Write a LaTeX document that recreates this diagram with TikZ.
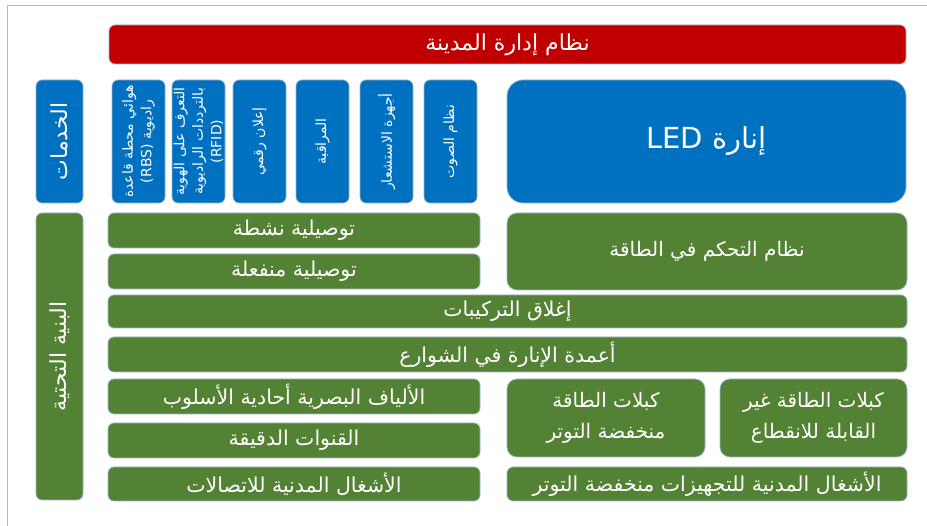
\documentclass[tikz,border=0pt]{standalone}
\usepackage{fontspec}
\newfontfamily\arabicfont[Script=Arabic]{DejaVu Sans}
\TeXXeTstate=1

\definecolor{cityred}{HTML}{C00000}
\definecolor{svcblue}{HTML}{0070C0}
\definecolor{infragreen}{HTML}{548235}
\definecolor{tileedge}{HTML}{9DB4CF}
\definecolor{pageframe}{HTML}{A9BCD2}

% right-to-left line
\newcommand\rtltext[1]{\beginR #1\endR}
% horizontal tile from corner (x1,y1) to corner (x2,y2), in pixel units
\newcommand\mkbox[7][]{%
  \node[#1, minimum width={(#5-#3)*1pt}, minimum height={(#6-#4)*1pt}]
    (#2) at ({(#3+#5)/2},{(#4+#6)/2}) {#7};}
% tile whose text runs upwards
\newcommand\mkvbox[7][]{%
  \node[#1, rotate=90, minimum width={(#6-#4)*1pt}, minimum height={(#5-#3)*1pt}]
    (#2) at ({(#3+#5)/2},{(#4+#6)/2}) {#7};}

\tikzset{
  tile/.style={draw=tileedge, line width=0.7pt, rounded corners=6pt,
    inner sep=0pt, outer sep=0pt, text=white, align=center,
    font=\arabicfont\fontsize{20.5}{24}\selectfont},
  redtile/.style={tile, fill=cityred, font=\arabicfont\fontsize{22}{26}\selectfont},
  bluetile/.style={tile, fill=svcblue},
  greentile/.style={tile, fill=infragreen},
  smalltext/.style={font=\arabicfont\fontsize{14}{18.5}\selectfont},
  sidetext/.style={font=\arabicfont\fontsize{22}{26}\selectfont},
  bigtext/.style={font=\arabicfont\fontsize{20}{31}\selectfont},
}

\begin{document}
\begin{tikzpicture}[x=1pt, y=-1pt]
  \useasboundingbox (0,0) rectangle (927,526);
  \fill[white] (0,0) rectangle (927,526);
  \draw[pageframe, line width=1pt] (927,5.5) -- (7,5.5) -- (7,526);

  % top system bar
  \mkbox[redtile]{city}{109}{25}{906}{64}{\rtltext{نظام إدارة المدينة}}

  % services
  \mkvbox[bluetile, sidetext]{services}{36}{80}{83}{203}{\rtltext{الخدمات}}
  \mkvbox[bluetile, smalltext]{rbs}{112}{80}{165}{203}{\rtltext{هوائي محطة قاعدة}\\\rtltext{راديوية \beginL(RBS)\endL{}}}
  \mkvbox[bluetile, smalltext]{rfid}{172}{80}{225}{203}{\rtltext{التعرف على الهوية}\\\rtltext{بالترددات الراديوية}\\\beginL(RFID)\endL{}}
  \mkvbox[bluetile, smalltext]{signage}{233}{80}{286}{203}{\rtltext{إعلان رقمي}}
  \mkvbox[bluetile, smalltext]{cctv}{296}{80}{349}{203}{\rtltext{المراقبة}}
  \mkvbox[bluetile, smalltext]{sensors}{360}{80}{413}{203}{\rtltext{أجهزة الاستشعار}}
  \mkvbox[bluetile, smalltext]{audio}{424}{80}{477}{203}{\rtltext{نظام الصوت}}
  \mkbox[bluetile, rounded corners=16pt, font=\arabicfont\fontsize{29}{34}\selectfont]{led}{507}{80}{906}{203}{\rtltext{إنارة \beginL LED\endL}}

  % infrastructure
  \mkvbox[greentile, sidetext]{infra}{36}{213}{83}{500}{\rtltext{البنية التحتية}}
  \mkbox[greentile]{active}{108}{213}{480}{248}{\rtltext{توصيلية نشطة}}
  \mkbox[greentile]{passive}{108}{254}{480}{289}{\rtltext{توصيلية منفعلة}}
  \mkbox[greentile, bigtext, rounded corners=10pt]{energy}{507}{213}{907}{290}{\rtltext{نظام التحكم في الطاقة}}
  \mkbox[greentile]{closures}{108}{295}{907}{328}{\rtltext{إغلاق التركيبات}}
  \mkbox[greentile]{poles}{108}{337}{907}{372}{\rtltext{أعمدة الإنارة في الشوارع}}
  \mkbox[greentile]{fibre}{108}{379}{480}{414}{\rtltext{الألياف البصرية أحادية الأسلوب}}
  \mkbox[greentile]{ducts}{108}{423}{480}{458}{\rtltext{القنوات الدقيقة}}
  \mkbox[greentile]{telcivil}{108}{467}{480}{501}{\rtltext{الأشغال المدنية للاتصالات}}
  \mkbox[greentile, bigtext, rounded corners=10pt]{lvcable}{507}{379}{705}{457}{\rtltext{كبلات الطاقة}\\\rtltext{منخفضة التوتر}}
  \mkbox[greentile, bigtext, rounded corners=10pt]{upscable}{720}{379}{907}{457}{\rtltext{كبلات الطاقة غير}\\\rtltext{القابلة للانقطاع}}
  \mkbox[greentile]{lvcivil}{507}{467}{907}{501}{\rtltext{الأشغال المدنية للتجهيزات منخفضة التوتر}}
\end{tikzpicture}
\end{document}
